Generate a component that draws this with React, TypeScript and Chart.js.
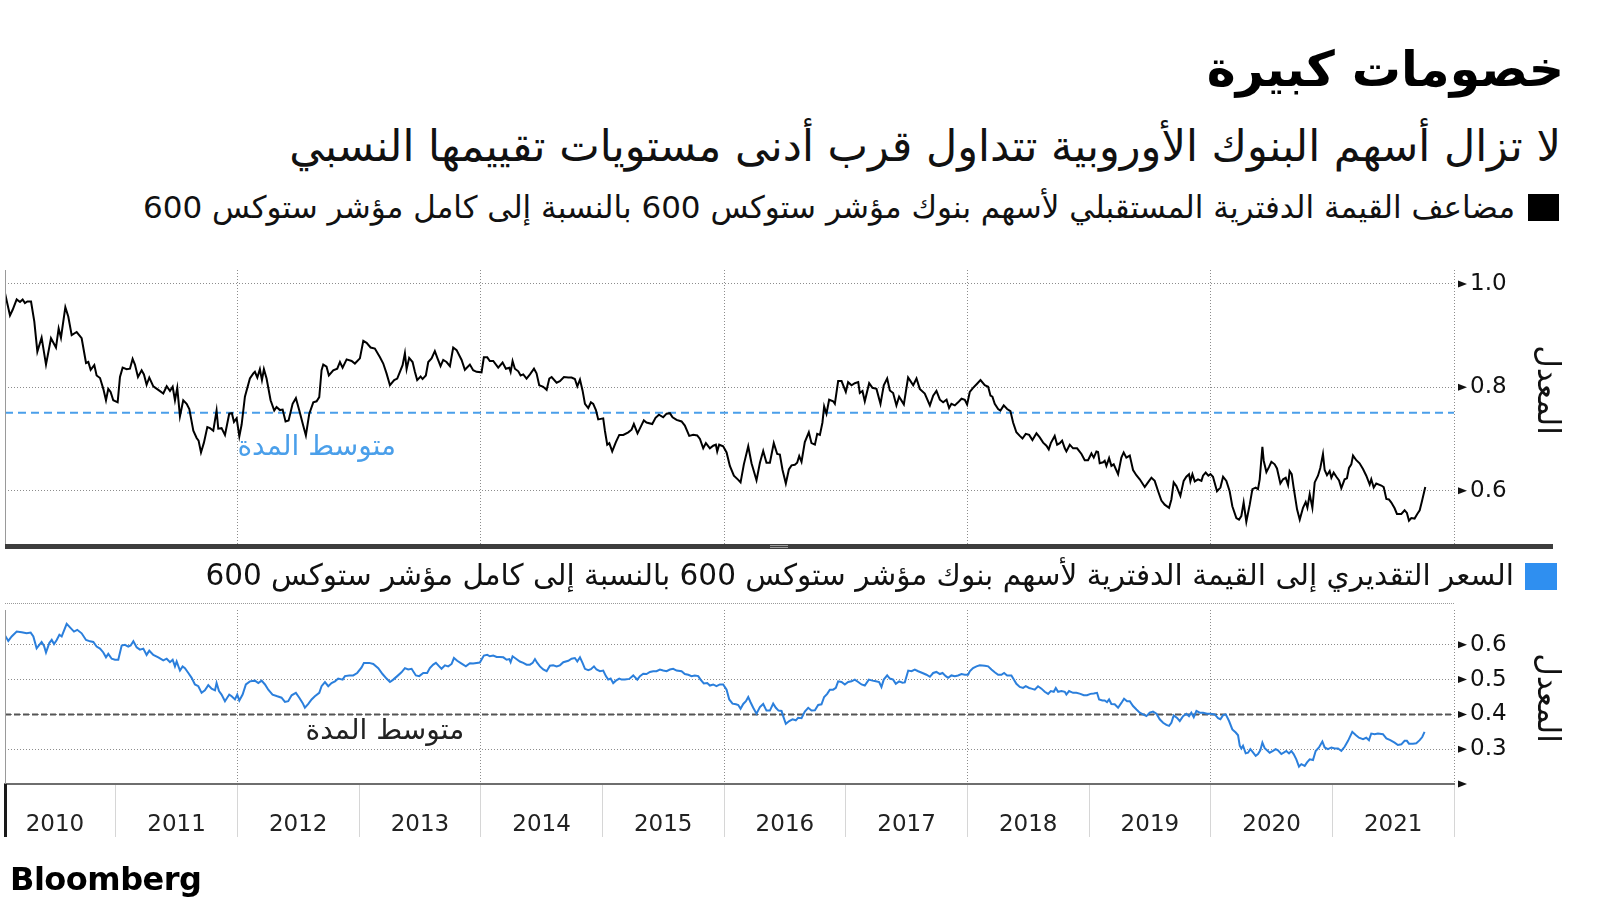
import React, { useEffect, useRef } from "react";
import { Chart, registerables } from "chart.js";

Chart.register(...registerables);

const FONT = "'DejaVu Sans', sans-serif";

const titleText = "خصومات كبيرة";
const subtitleText = "لا تزال أسهم البنوك الأوروبية تتداول قرب أدنى مستويات تقييمها النسبي";
const topLegendText = "مضاعف القيمة الدفترية المستقبلي لأسهم بنوك مؤشر ستوكس 600 بالنسبة إلى كامل مؤشر ستوكس 600";
const bottomLegendText = "السعر التقديري إلى القيمة الدفترية لأسهم بنوك مؤشر ستوكس 600 بالنسبة إلى كامل مؤشر ستوكس 600";
const averageLabel = "متوسط المدة";
const axisTitle = "المعدل";
const logoText = "Bloomberg";

const xStart = 2010.09;
const xEnd = 2022;
const topGridYears = [2012, 2014, 2016, 2018, 2020, 2022];
const yearBoundaries = [2011, 2012, 2013, 2014, 2015, 2016, 2017, 2018, 2019, 2020, 2021, 2022];
const topTickValues = [0.6, 0.8, 1.0];
const bottomTickValues = [0.3, 0.4, 0.5, 0.6];
const topRange = [0.493, 1.027];
const bottomRange = [0.2, 0.7];
const topAverage = 0.751;
const bottomAverage = 0.4;
const topAverageLabelAt = [2012.0, 0.683];
const bottomAverageLabelAt = [2012.56, 0.351];

const topDates = [
  2010.09, 2010.131, 2010.153, 2010.186, 2010.213, 2010.235, 2010.254, 2010.274, 2010.304, 2010.331,
  2010.356, 2010.391, 2010.427, 2010.468, 2010.509, 2010.531, 2010.55, 2010.586, 2010.61, 2010.638,
  2010.679, 2010.72, 2010.756, 2010.775, 2010.794, 2010.824, 2010.843, 2010.871, 2010.898, 2010.92,
  2010.939, 2010.958, 2010.98, 2011.016, 2011.035, 2011.057, 2011.09, 2011.117, 2011.139, 2011.158,
  2011.183, 2011.213, 2011.232, 2011.254, 2011.276, 2011.309, 2011.35, 2011.391, 2011.419, 2011.446,
  2011.468, 2011.487, 2011.506, 2011.528, 2011.555, 2011.583, 2011.605, 2011.638, 2011.665, 2011.681,
  2011.701, 2011.725, 2011.753, 2011.775, 2011.802, 2011.829, 2011.843, 2011.87, 2011.898, 2011.933,
  2011.955, 2011.972, 2011.994, 2012.016, 2012.035, 2012.062, 2012.103, 2012.131, 2012.144, 2012.164,
  2012.185, 2012.202, 2012.218, 2012.24, 2012.273, 2012.303, 2012.322, 2012.35, 2012.372, 2012.396,
  2012.421, 2012.454, 2012.481, 2012.509, 2012.541, 2012.563, 2012.591, 2012.624, 2012.651, 2012.673,
  2012.692, 2012.706, 2012.733, 2012.752, 2012.788, 2012.821, 2012.843, 2012.865, 2012.898, 2012.939,
  2012.966, 2013.007, 2013.035, 2013.062, 2013.095, 2013.13, 2013.172, 2013.199, 2013.226, 2013.254,
  2013.289, 2013.314, 2013.336, 2013.358, 2013.377, 2013.391, 2013.412, 2013.44, 2013.459, 2013.478,
  2013.506, 2013.522, 2013.549, 2013.569, 2013.596, 2013.623, 2013.645, 2013.67, 2013.692, 2013.719,
  2013.747, 2013.774, 2013.802, 2013.843, 2013.87, 2013.911, 2013.938, 2013.966, 2014.007, 2014.026,
  2014.054, 2014.075,
  2014.103, 2014.144, 2014.18, 2014.207, 2014.235, 2014.246, 2014.262, 2014.281, 2014.309, 2014.328,
  2014.35, 2014.377, 2014.405, 2014.438, 2014.459, 2014.481, 2014.514, 2014.542, 2014.564, 2014.583,
  2014.624, 2014.651, 2014.684, 2014.72, 2014.747, 2014.774, 2014.794, 2014.816, 2014.837, 2014.857,
  2014.884, 2014.906, 2014.925, 2014.947, 2014.966, 2015.007, 2015.021, 2015.04, 2015.057, 2015.081,
  2015.111, 2015.139, 2015.172, 2015.213, 2015.24, 2015.259, 2015.289, 2015.314, 2015.341, 2015.363,
  2015.41, 2015.437, 2015.465, 2015.5, 2015.528, 2015.555, 2015.577, 2015.61, 2015.651, 2015.678,
  2015.714, 2015.747, 2015.78, 2015.802, 2015.829, 2015.851, 2015.884, 2015.911, 2015.933, 2015.944,
  2015.96, 2015.993, 2016.021, 2016.048, 2016.081, 2016.117, 2016.136, 2016.163, 2016.199, 2016.226,
  2016.267, 2016.295, 2016.322, 2016.349, 2016.377, 2016.409, 2016.437, 2016.459, 2016.481, 2016.508,
  2016.533, 2016.555, 2016.582, 2016.601, 2016.618, 2016.637, 2016.664, 2016.697, 2016.719, 2016.747,
  2016.766, 2016.788, 2016.809, 2016.823, 2016.842, 2016.864, 2016.897, 2016.911, 2016.938, 2016.966,
  2017.001, 2017.02, 2017.048, 2017.075, 2017.103, 2017.116, 2017.138, 2017.157, 2017.193, 2017.22,
  2017.253, 2017.286, 2017.313, 2017.341, 2017.363, 2017.39, 2017.417, 2017.439, 2017.478, 2017.513,
  2017.533, 2017.555, 2017.582, 2017.609, 2017.65, 2017.692, 2017.719, 2017.746, 2017.774, 2017.801,
  2017.829, 2017.85, 2017.869, 2017.897, 2017.924, 2017.952, 2017.979, 2017.998,
  2018.02, 2018.047, 2018.08, 2018.108, 2018.143, 2018.171, 2018.19, 2018.206, 2018.225, 2018.253,
  2018.272, 2018.299, 2018.327, 2018.354, 2018.376, 2018.403, 2018.431, 2018.453, 2018.48, 2018.508,
  2018.535, 2018.568, 2018.595, 2018.623, 2018.65, 2018.669, 2018.686, 2018.718, 2018.738, 2018.76,
  2018.779, 2018.801, 2018.814, 2018.842, 2018.869, 2018.902, 2018.938, 2018.965, 2018.992, 2019.02,
  2019.039, 2019.061, 2019.074, 2019.088, 2019.116, 2019.129, 2019.143, 2019.165, 2019.184, 2019.203,
  2019.239, 2019.266, 2019.285, 2019.307, 2019.335, 2019.362, 2019.389, 2019.417, 2019.458, 2019.485,
  2019.513, 2019.54, 2019.568, 2019.595, 2019.622, 2019.658, 2019.677, 2019.696, 2019.718, 2019.751,
  2019.778, 2019.8, 2019.822, 2019.833, 2019.85, 2019.869, 2019.896, 2019.924, 2019.937, 2019.959,
  2019.981, 2019.998, 2020.019, 2020.052, 2020.08, 2020.102, 2020.129, 2020.156, 2020.178, 2020.211,
  2020.233, 2020.252, 2020.271, 2020.293, 2020.321, 2020.343, 2020.37, 2020.389, 2020.403, 2020.425,
  2020.436, 2020.458, 2020.48, 2020.499, 2020.526, 2020.545, 2020.573, 2020.595, 2020.617, 2020.636,
  2020.649, 2020.666, 2020.682, 2020.71, 2020.732, 2020.759, 2020.781, 2020.795, 2020.814, 2020.836,
  2020.855, 2020.882, 2020.901, 2020.923, 2020.937, 2020.956, 2020.978, 2020.992, 2021.011, 2021.033,
  2021.055, 2021.074, 2021.101, 2021.12, 2021.137, 2021.156, 2021.17, 2021.197, 2021.224, 2021.252,
  2021.279, 2021.307, 2021.32, 2021.34, 2021.361, 2021.403, 2021.422, 2021.444, 2021.465, 2021.485,
  2021.512, 2021.531, 2021.567, 2021.594, 2021.613, 2021.63, 2021.649, 2021.676, 2021.698, 2021.718,
  2021.737, 2021.764,
];

const topValues = [
  0.982, 0.939, 0.95, 0.97, 0.965, 0.97, 0.963, 0.966, 0.966, 0.927,
  0.869, 0.896, 0.844, 0.895, 0.877, 0.914, 0.896, 0.955, 0.937, 0.901,
  0.907, 0.895, 0.847, 0.849, 0.834, 0.843, 0.823, 0.818, 0.797, 0.775,
  0.797, 0.791, 0.775, 0.771, 0.82, 0.838, 0.835, 0.836, 0.855, 0.844,
  0.82, 0.833, 0.825, 0.805, 0.819, 0.802, 0.795, 0.788, 0.802, 0.793,
  0.801, 0.775, 0.799, 0.744, 0.775, 0.768, 0.758, 0.716, 0.702, 0.697,
  0.674, 0.693, 0.723, 0.721, 0.716, 0.755, 0.72, 0.721, 0.708, 0.749,
  0.75, 0.733, 0.74, 0.705, 0.728, 0.782, 0.817, 0.827, 0.83, 0.819,
  0.835, 0.814, 0.835, 0.817, 0.775, 0.755, 0.762, 0.756, 0.757, 0.734,
  0.736, 0.768, 0.779, 0.755, 0.726, 0.707, 0.749, 0.771, 0.773, 0.781,
  0.833, 0.844, 0.84, 0.823, 0.833, 0.836, 0.849, 0.838, 0.854, 0.851,
  0.846, 0.856, 0.89, 0.886, 0.877, 0.875, 0.858, 0.846, 0.827, 0.804,
  0.814, 0.817, 0.83, 0.843, 0.866, 0.835, 0.857, 0.849, 0.83, 0.814,
  0.821, 0.816, 0.823, 0.849, 0.856, 0.87, 0.856, 0.841, 0.853, 0.849,
  0.841, 0.877, 0.872, 0.853, 0.834, 0.844, 0.833, 0.83, 0.829, 0.858,
  0.858, 0.851,
  0.851, 0.838, 0.848, 0.836, 0.838, 0.83, 0.851, 0.836, 0.831, 0.823,
  0.825, 0.817, 0.825, 0.836, 0.827, 0.804, 0.801, 0.795, 0.817, 0.82,
  0.809, 0.812, 0.82, 0.819, 0.819, 0.816, 0.802, 0.815, 0.794, 0.768,
  0.76, 0.771, 0.768, 0.756, 0.738, 0.74, 0.716, 0.689, 0.692, 0.676,
  0.694, 0.708, 0.708, 0.713, 0.718, 0.729, 0.711, 0.723, 0.736, 0.732,
  0.729, 0.741, 0.747, 0.742, 0.749, 0.75, 0.742, 0.737, 0.734, 0.726,
  0.706, 0.708, 0.707, 0.7, 0.682, 0.692, 0.682, 0.687, 0.689, 0.676,
  0.689, 0.686, 0.674, 0.648, 0.629, 0.621, 0.616, 0.651, 0.686, 0.653,
  0.62, 0.654, 0.677, 0.654, 0.654, 0.692, 0.671, 0.67, 0.64, 0.614,
  0.641, 0.649, 0.65, 0.654, 0.667, 0.656, 0.694, 0.713, 0.692, 0.689,
  0.71, 0.708, 0.732, 0.763, 0.749, 0.776, 0.773, 0.768, 0.812, 0.812,
  0.791, 0.81, 0.804, 0.808, 0.81, 0.789, 0.793, 0.773, 0.808, 0.799,
  0.797, 0.768, 0.804, 0.817, 0.794, 0.789, 0.765, 0.782, 0.767, 0.819,
  0.812, 0.804, 0.817, 0.797, 0.788, 0.765, 0.784, 0.793, 0.776, 0.771,
  0.776, 0.76, 0.768, 0.765, 0.771, 0.778, 0.776, 0.767,
  0.791, 0.799, 0.807, 0.814, 0.804, 0.801, 0.784, 0.782, 0.768, 0.758,
  0.755, 0.765, 0.758, 0.754, 0.732, 0.713, 0.706, 0.701, 0.71, 0.708,
  0.698, 0.711, 0.703, 0.693, 0.687, 0.68, 0.692, 0.706, 0.689, 0.692,
  0.697, 0.682, 0.676, 0.689, 0.682, 0.682, 0.671, 0.659, 0.659, 0.672,
  0.664, 0.676, 0.675, 0.653, 0.655, 0.658, 0.648, 0.663, 0.648, 0.651,
  0.632, 0.664, 0.674, 0.664, 0.668, 0.64, 0.63, 0.622, 0.607, 0.616,
  0.625, 0.619, 0.599, 0.581, 0.573, 0.567, 0.583, 0.616, 0.609, 0.59,
  0.619, 0.627, 0.632, 0.618, 0.632, 0.618, 0.622, 0.619, 0.629, 0.635,
  0.629, 0.632, 0.627, 0.599, 0.606, 0.627, 0.619, 0.599, 0.57, 0.547,
  0.544, 0.551, 0.577, 0.54, 0.573, 0.603, 0.606, 0.603, 0.622, 0.685,
  0.658, 0.636, 0.646, 0.656, 0.651, 0.643, 0.614, 0.622, 0.625, 0.611,
  0.638, 0.632, 0.606, 0.564, 0.544, 0.567, 0.578, 0.567, 0.593, 0.567,
  0.616, 0.629, 0.644, 0.671, 0.64, 0.63, 0.638, 0.625, 0.635, 0.627,
  0.62, 0.605, 0.622, 0.624, 0.644, 0.651, 0.668, 0.659, 0.653, 0.642,
  0.629, 0.612, 0.622, 0.606, 0.614, 0.61, 0.607, 0.584, 0.583, 0.577,
  0.566, 0.555, 0.555, 0.562, 0.557, 0.542, 0.547, 0.546, 0.555, 0.562,
  0.58, 0.607,
];

const bottomDates = [
  2010.09, 2010.117, 2010.145, 2010.186, 2010.227, 2010.268, 2010.301, 2010.323, 2010.35, 2010.372,
  2010.391, 2010.411, 2010.427, 2010.454, 2010.474, 2010.493, 2010.515, 2010.537, 2010.556, 2010.597,
  2010.63, 2010.657, 2010.684, 2010.72, 2010.756, 2010.789, 2010.816, 2010.843, 2010.871, 2010.898,
  2010.92, 2010.939, 2010.967, 2010.994, 2011.021, 2011.049, 2011.076, 2011.103, 2011.123, 2011.145,
  2011.172, 2011.199, 2011.227, 2011.254, 2011.276, 2011.309, 2011.35, 2011.391, 2011.419, 2011.446,
  2011.468, 2011.487, 2011.501, 2011.528, 2011.55, 2011.569, 2011.597, 2011.624, 2011.651, 2011.679,
  2011.706, 2011.733, 2011.761, 2011.788, 2011.816, 2011.829, 2011.849, 2011.87, 2011.898, 2011.933,
  2011.953, 2011.98, 2011.999, 2012.016, 2012.043, 2012.07, 2012.103, 2012.144, 2012.172, 2012.199,
  2012.227, 2012.254, 2012.289, 2012.328, 2012.363, 2012.391, 2012.418, 2012.446, 2012.481, 2012.509,
  2012.536, 2012.555, 2012.583, 2012.61, 2012.637, 2012.673, 2012.692, 2012.72, 2012.747, 2012.774,
  2012.802, 2012.829, 2012.865, 2012.884, 2012.92, 2012.952, 2012.985, 2013.021, 2013.04, 2013.084,
  2013.117, 2013.158, 2013.193, 2013.226, 2013.254, 2013.281, 2013.314, 2013.349, 2013.377, 2013.404,
  2013.432, 2013.467, 2013.495, 2013.528, 2013.56, 2013.582, 2013.61, 2013.632, 2013.659, 2013.678,
  2013.706, 2013.733, 2013.761, 2013.78, 2013.807, 2013.843, 2013.878, 2013.911, 2013.938, 2013.993,
  2014.026, 2014.054, 2014.075,
  2014.103, 2014.131, 2014.158, 2014.186, 2014.213, 2014.235, 2014.246, 2014.262, 2014.29, 2014.322,
  2014.35, 2014.377, 2014.405, 2014.427, 2014.446, 2014.465, 2014.487, 2014.514, 2014.542, 2014.569,
  2014.596, 2014.624, 2014.651, 2014.679, 2014.72, 2014.747, 2014.774, 2014.794, 2014.816, 2014.837,
  2014.857, 2014.884, 2014.906, 2014.931, 2014.952, 2014.98, 2015.007, 2015.029, 2015.048, 2015.068,
  2015.089, 2015.111, 2015.139, 2015.158, 2015.185, 2015.221, 2015.254, 2015.287, 2015.309, 2015.336,
  2015.363, 2015.391, 2015.418, 2015.445, 2015.473, 2015.5, 2015.528, 2015.555, 2015.582, 2015.61,
  2015.651, 2015.678, 2015.706, 2015.733, 2015.76, 2015.788, 2015.807, 2015.834, 2015.862, 2015.884,
  2015.911, 2015.938, 2015.966, 2015.993, 2016.021, 2016.043, 2016.07, 2016.098, 2016.117, 2016.136,
  2016.158, 2016.18, 2016.199, 2016.218, 2016.24, 2016.267, 2016.295, 2016.322, 2016.349, 2016.377,
  2016.404, 2016.426, 2016.448, 2016.473, 2016.486, 2016.508, 2016.536, 2016.563, 2016.59, 2016.609,
  2016.637, 2016.664, 2016.692, 2016.719, 2016.747, 2016.774, 2016.801, 2016.823, 2016.848, 2016.87,
  2016.897, 2016.919, 2016.938, 2016.966, 2016.993, 2017.02, 2017.048, 2017.075, 2017.103, 2017.13,
  2017.157, 2017.19, 2017.22, 2017.248, 2017.275, 2017.294, 2017.313, 2017.341, 2017.363, 2017.39,
  2017.412, 2017.439, 2017.467, 2017.486, 2017.514, 2017.541, 2017.568, 2017.596, 2017.631, 2017.664,
  2017.692, 2017.719, 2017.746, 2017.774, 2017.796, 2017.823, 2017.842, 2017.869, 2017.897, 2017.924,
  2017.952, 2017.979, 2018.006,
  2018.02, 2018.047, 2018.075, 2018.102, 2018.143, 2018.171, 2018.198, 2018.225, 2018.253, 2018.28,
  2018.302, 2018.327, 2018.362, 2018.382, 2018.403, 2018.431, 2018.458, 2018.48, 2018.508, 2018.527,
  2018.554, 2018.581, 2018.609, 2018.636, 2018.664, 2018.686, 2018.71, 2018.727, 2018.746, 2018.773,
  2018.801, 2018.814, 2018.836, 2018.869, 2018.896, 2018.929, 2018.957, 2018.984, 2019.012, 2019.039,
  2019.066, 2019.083, 2019.11, 2019.129, 2019.148, 2019.165, 2019.184, 2019.211, 2019.239, 2019.266,
  2019.288, 2019.313, 2019.335, 2019.362, 2019.39, 2019.417, 2019.444, 2019.472, 2019.499, 2019.526,
  2019.554, 2019.581, 2019.609, 2019.636, 2019.658, 2019.677, 2019.696, 2019.724, 2019.746, 2019.773,
  2019.8, 2019.822, 2019.841, 2019.861, 2019.883, 2019.91, 2019.937, 2019.97, 2019.998, 2020.033,
  2020.061, 2020.08, 2020.102, 2020.124, 2020.151, 2020.178, 2020.206, 2020.225, 2020.239, 2020.252,
  2020.266, 2020.288, 2020.307, 2020.326, 2020.343, 2020.37, 2020.389, 2020.408, 2020.425, 2020.444,
  2020.463, 2020.485, 2020.512, 2020.534, 2020.553, 2020.581, 2020.6, 2020.622, 2020.644, 2020.663,
  2020.682, 2020.704, 2020.726, 2020.745, 2020.773, 2020.792, 2020.814, 2020.841, 2020.863, 2020.89,
  2020.918, 2020.937, 2020.964, 2020.992, 2021.019, 2021.047, 2021.074, 2021.101, 2021.129, 2021.164,
  2021.192, 2021.219, 2021.252, 2021.279, 2021.301, 2021.32, 2021.348, 2021.375, 2021.416, 2021.444,
  2021.476, 2021.512, 2021.539, 2021.567, 2021.594, 2021.613, 2021.63, 2021.663, 2021.69, 2021.718,
  2021.739, 2021.758,
];

const bottomValues = [
  0.627, 0.611, 0.624, 0.638, 0.636, 0.633, 0.635, 0.624, 0.59, 0.6,
  0.608, 0.597, 0.578, 0.605, 0.614, 0.602, 0.614, 0.629, 0.624, 0.66,
  0.648, 0.638, 0.643, 0.633, 0.614, 0.61, 0.608, 0.595, 0.589, 0.578,
  0.564, 0.574, 0.56, 0.557, 0.557, 0.598, 0.6, 0.595, 0.598, 0.61,
  0.593, 0.586, 0.589, 0.571, 0.583, 0.571, 0.564, 0.555, 0.56, 0.55,
  0.557, 0.538, 0.552, 0.526, 0.538, 0.533, 0.519, 0.505, 0.486, 0.481,
  0.462, 0.469, 0.484, 0.474, 0.469, 0.49, 0.467, 0.457, 0.438, 0.457,
  0.452, 0.443, 0.457, 0.44, 0.457, 0.486, 0.495, 0.497, 0.49, 0.497,
  0.486, 0.471, 0.457, 0.452, 0.448, 0.436, 0.438, 0.455, 0.462, 0.448,
  0.433, 0.419, 0.43, 0.443, 0.452, 0.462, 0.481, 0.493, 0.481, 0.49,
  0.495, 0.503, 0.5, 0.51, 0.512, 0.512, 0.519, 0.535, 0.548, 0.548,
  0.545, 0.533, 0.516, 0.503, 0.493, 0.5, 0.51, 0.521, 0.533, 0.529,
  0.531, 0.512, 0.51, 0.519, 0.519, 0.533, 0.543, 0.548, 0.538, 0.531,
  0.541, 0.538, 0.545, 0.562, 0.554, 0.546, 0.538, 0.547, 0.546, 0.549,
  0.569, 0.571, 0.567,
  0.569, 0.565, 0.565, 0.564, 0.557, 0.559, 0.55, 0.567, 0.56, 0.552,
  0.548, 0.543, 0.543, 0.548, 0.559, 0.548, 0.538, 0.529, 0.524, 0.54,
  0.541, 0.538, 0.541, 0.55, 0.554, 0.56, 0.562, 0.552, 0.564, 0.548,
  0.531, 0.527, 0.53, 0.538, 0.529, 0.524, 0.526, 0.51, 0.5, 0.503,
  0.49, 0.497, 0.503, 0.5, 0.5, 0.502, 0.512, 0.5, 0.51, 0.517,
  0.516, 0.522, 0.524, 0.524, 0.529, 0.526, 0.524, 0.529, 0.531, 0.526,
  0.524, 0.516, 0.514, 0.51, 0.512, 0.51, 0.5, 0.489, 0.49, 0.483,
  0.486, 0.481, 0.486, 0.486, 0.471, 0.443, 0.431, 0.429, 0.427, 0.416,
  0.43, 0.438, 0.45, 0.435, 0.419, 0.402, 0.421, 0.43, 0.411, 0.411,
  0.431, 0.419, 0.411, 0.41, 0.395, 0.373, 0.381, 0.386, 0.383, 0.39,
  0.389, 0.408, 0.419, 0.411, 0.412, 0.427, 0.429, 0.45, 0.459, 0.471,
  0.471, 0.476, 0.495, 0.493, 0.486, 0.493, 0.495, 0.5, 0.493, 0.486,
  0.483, 0.5, 0.497, 0.495, 0.493, 0.479, 0.5, 0.512, 0.503, 0.5,
  0.488, 0.495, 0.491, 0.492, 0.526, 0.524, 0.529, 0.524, 0.519, 0.514,
  0.508, 0.519, 0.522, 0.516, 0.519, 0.51, 0.505, 0.512, 0.51, 0.512,
  0.516, 0.514, 0.514,
  0.524, 0.533, 0.538, 0.541, 0.54, 0.538, 0.529, 0.521, 0.514, 0.514,
  0.519, 0.512, 0.512, 0.5, 0.488, 0.479, 0.476, 0.481, 0.476, 0.474,
  0.471, 0.481, 0.474, 0.465, 0.459, 0.467, 0.465, 0.476, 0.465, 0.467,
  0.465, 0.457, 0.467, 0.462, 0.462, 0.459, 0.455, 0.455, 0.459, 0.46,
  0.462, 0.443, 0.44, 0.44, 0.435, 0.443, 0.43, 0.429, 0.419, 0.433,
  0.445, 0.438, 0.438, 0.424, 0.414, 0.405, 0.4, 0.395, 0.405, 0.408,
  0.402, 0.386, 0.376, 0.37, 0.367, 0.376, 0.397, 0.39, 0.381, 0.395,
  0.402, 0.395, 0.405, 0.392, 0.41, 0.405, 0.405, 0.402, 0.402, 0.4,
  0.389, 0.386, 0.398, 0.4, 0.381, 0.357, 0.348, 0.34, 0.31, 0.302,
  0.31, 0.288, 0.29, 0.3, 0.293, 0.281, 0.286, 0.297, 0.319, 0.303,
  0.297, 0.29, 0.295, 0.3, 0.297, 0.286, 0.29, 0.295, 0.288, 0.295,
  0.286, 0.271, 0.25, 0.257, 0.252, 0.262, 0.271, 0.269, 0.295, 0.305,
  0.322, 0.305, 0.3, 0.305, 0.302, 0.302, 0.295, 0.307, 0.324, 0.35,
  0.341, 0.333, 0.329, 0.333, 0.326, 0.345, 0.343, 0.345, 0.343, 0.331,
  0.326, 0.319, 0.312, 0.314, 0.324, 0.324, 0.316, 0.316, 0.317, 0.326,
  0.335, 0.35,
];

const toPoints = (xs: number[], ys: number[]) => {
  const n = Math.min(xs.length, ys.length);
  const out: { x: number; y: number }[] = [];
  for (let i = 0; i < n; i++) out.push({ x: xs[i], y: ys[i] });
  return out;
};

const decor = {
  id: "decor",
  afterDraw(chart: any, _args: any, o: any) {
    const { ctx, chartArea: a, scales } = chart;
    const xs = scales.x;
    const ys = scales.y;
    ctx.save();
    ctx.strokeStyle = o.frameColor;
    ctx.lineWidth = 1;
    ctx.beginPath();
    ctx.moveTo(a.left + 0.5, a.top);
    ctx.lineTo(a.left + 0.5, a.bottom);
    ctx.stroke();
    if (o.footLength) {
      ctx.strokeStyle = "#1a1a1a";
      ctx.lineWidth = 3;
      ctx.beginPath();
      ctx.moveTo(a.left + 0.5, a.bottom);
      ctx.lineTo(a.left + 0.5, a.bottom + o.footLength);
      ctx.stroke();
    }
    ctx.fillStyle = "#111";
    const tri = (x: number, y: number) => {
      ctx.beginPath();
      ctx.moveTo(x, y - 3.5);
      ctx.lineTo(x + 9, y);
      ctx.lineTo(x, y + 3.5);
      ctx.closePath();
      ctx.fill();
    };
    ys.ticks.forEach((t: any) => tri(a.right + 4, ys.getPixelForValue(t.value)));
    if (o.xArrow) tri(a.right + 4, a.bottom);

    ctx.font = `${o.labelSize}px ${FONT}`;
    ctx.fillStyle = o.labelColor;
    ctx.textAlign = "left";
    ctx.textBaseline = "middle";
    (ctx as any).direction = "rtl";
    ctx.fillText(o.labelText, xs.getPixelForValue(o.labelAt[0]), ys.getPixelForValue(o.labelAt[1]));

    ctx.translate(a.right + o.titleDx, a.top + o.titleDy);
    ctx.rotate(Math.PI / 2);
    ctx.textAlign = "center";
    ctx.fillStyle = "#111";
    ctx.font = `${o.titleSize}px ${FONT}`;
    ctx.fillText(o.titleText, 0, 0);
    ctx.restore();
  },
};

const dotted = "#8c8c8c";

function topConfig(): any {
  return {
    type: "line",
    data: {
      datasets: [
        {
          data: toPoints(topDates, topValues),
          borderColor: "#000",
          borderWidth: 2,
          pointRadius: 0,
          tension: 0,
        },
        {
          data: [
            { x: xStart, y: topAverage },
            { x: xEnd, y: topAverage },
          ],
          borderColor: "#4a9fea",
          borderWidth: 2,
          borderDash: [8, 5],
          pointRadius: 0,
        },
      ],
    },
    options: {
      animation: false,
      responsive: false,
      devicePixelRatio: 1,
      events: [],
      layout: { padding: { left: 5, top: 40, right: 0, bottom: 40 } },
      plugins: {
        legend: { display: false },
        tooltip: { enabled: false },
        decor: {
          frameColor: "#9a9a9a",
          footLength: 0,
          xArrow: false,
          labelText: averageLabel,
          labelColor: "#4a9fea",
          labelSize: 28,
          labelAt: topAverageLabelAt,
          titleText: axisTitle,
          titleSize: 31,
          titleDx: 92,
          titleDy: 120,
        },
      },
      scales: {
        x: {
          type: "linear",
          min: xStart,
          max: xEnd,
          afterBuildTicks: (s: any) => {
            s.ticks = topGridYears.map((v) => ({ value: v }));
          },
          afterFit: (s: any) => {
            s.height = 0;
          },
          ticks: { display: false },
          grid: { color: dotted, lineWidth: 1, drawTicks: false },
          border: { display: false, dash: [1, 2] },
        },
        y: {
          type: "linear",
          position: "right",
          min: topRange[0],
          max: topRange[1],
          afterBuildTicks: (s: any) => {
            s.ticks = topTickValues.map((v) => ({ value: v }));
          },
          afterFit: (s: any) => {
            s.width = 146;
          },
          ticks: {
            padding: 16,
            color: "#111",
            font: { family: FONT, size: 23 },
            callback: (v: any) => Number(v).toFixed(1),
          },
          grid: { color: dotted, lineWidth: 1, drawTicks: false },
          border: { display: false, dash: [1, 2] },
        },
      },
    },
    plugins: [decor],
  };
}

function bottomConfig(): any {
  return {
    type: "line",
    data: {
      datasets: [
        {
          data: toPoints(bottomDates, bottomValues),
          borderColor: "#2b7fdc",
          borderWidth: 2,
          pointRadius: 0,
          tension: 0,
        },
        {
          data: [
            { x: xStart, y: bottomAverage },
            { x: xEnd, y: bottomAverage },
          ],
          borderColor: "#555",
          borderWidth: 2,
          borderDash: [6, 3],
          pointRadius: 0,
        },
      ],
    },
    options: {
      animation: false,
      responsive: false,
      devicePixelRatio: 1,
      events: [],
      layout: { padding: { left: 5, top: 40, right: 0, bottom: 20 } },
      plugins: {
        legend: { display: false },
        tooltip: { enabled: false },
        decor: {
          frameColor: "#9a9a9a",
          footLength: 53,
          xArrow: true,
          labelText: averageLabel,
          labelColor: "#222",
          labelSize: 28,
          labelAt: bottomAverageLabelAt,
          titleText: axisTitle,
          titleSize: 31,
          titleDx: 92,
          titleDy: 88,
        },
      },
      scales: {
        x: {
          type: "linear",
          min: xStart,
          max: xEnd,
          afterBuildTicks: (s: any) => {
            s.ticks = yearBoundaries.map((v) => ({ value: v }));
          },
          afterFit: (s: any) => {
            s.height = 60;
          },
          ticks: {
            autoSkip: false,
            maxRotation: 0,
            labelOffset: -60.8,
            padding: -26,
            color: "#222",
            font: { family: FONT, size: 23 },
            callback: (v: any) => String(Number(v) - 1),
          },
          grid: {
            color: (c: any) => (c.tick && c.tick.value % 2 === 0 ? dotted : "rgba(0,0,0,0)"),
            lineWidth: 1,
            drawTicks: true,
            tickLength: 53,
            tickColor: "#d6d6d6",
            tickWidth: 1,
            tickBorderDash: [],
          },
          border: { display: true, color: "#6e6e6e", width: 2, dash: [1, 2] },
        },
        y: {
          type: "linear",
          position: "right",
          min: bottomRange[0],
          max: bottomRange[1],
          afterBuildTicks: (s: any) => {
            s.ticks = bottomTickValues.map((v) => ({ value: v }));
          },
          afterFit: (s: any) => {
            s.width = 146;
          },
          ticks: {
            padding: 16,
            color: "#111",
            font: { family: FONT, size: 23 },
            callback: (v: any) => Number(v).toFixed(1),
          },
          grid: { color: dotted, lineWidth: 1, drawTicks: false },
          border: { display: false, dash: [1, 2] },
        },
      },
    },
    plugins: [decor],
  };
}

function ChartCanvas({ make, top, height }: { make: () => any; top: number; height: number }) {
  const ref = useRef<HTMLCanvasElement>(null);
  useEffect(() => {
    const chart = new Chart(ref.current as HTMLCanvasElement, make());
    return () => chart.destroy();
  }, []);
  return (
    <canvas
      ref={ref}
      width={1600}
      height={height}
      style={{ position: "absolute", left: 0, top, width: 1600, height, display: "block" }}
    />
  );
}

const textBase: React.CSSProperties = {
  position: "absolute",
  direction: "rtl",
  textAlign: "right",
  whiteSpace: "nowrap",
  fontFamily: FONT,
  lineHeight: 1,
  color: "#111",
};

export default function App() {
  return (
    <div
      style={{
        position: "absolute",
        left: 0,
        top: 0,
        width: 1600,
        height: 900,
        background: "#fff",
        overflow: "hidden",
      }}
    >
      <div style={{ ...textBase, right: 36, top: 45, fontSize: 49, fontWeight: "bold", color: "#000" }}>{titleText}</div>
      <div style={{ ...textBase, right: 39, top: 125, fontSize: 43 }}>{subtitleText}</div>
      <div style={{ position: "absolute", left: 1528, top: 194, width: 31, height: 27, background: "#000" }} />
      <div style={{ ...textBase, right: 85, top: 192, fontSize: 31 }}>{topLegendText}</div>

      <ChartCanvas make={topConfig} top={230} height={356} />

      <div style={{ position: "absolute", left: 5, top: 544, width: 1548, height: 5, background: "#3d3d3d" }} />
      <div style={{ position: "absolute", left: 770, top: 545, width: 18, height: 1, background: "#9a9a9a" }} />
      <div style={{ position: "absolute", left: 770, top: 547, width: 18, height: 1, background: "#9a9a9a" }} />

      <div style={{ position: "absolute", left: 1525, top: 563, width: 32, height: 27, background: "#2f8ff0" }} />
      <div style={{ ...textBase, right: 86, top: 561, fontSize: 29.5 }}>{bottomLegendText}</div>
      <div style={{ position: "absolute", left: 5, top: 603, width: 1449, height: 0, borderTop: "1px dotted #9a9a9a" }} />

      <ChartCanvas make={bottomConfig} top={570} height={294} />

      <div
        style={{
          position: "absolute",
          left: 10,
          top: 863,
          fontFamily: FONT,
          fontWeight: "bold",
          fontSize: 32,
          lineHeight: 1,
          color: "#000",
          letterSpacing: -0.5,
        }}
      >
        {logoText}
      </div>
    </div>
  );
}
